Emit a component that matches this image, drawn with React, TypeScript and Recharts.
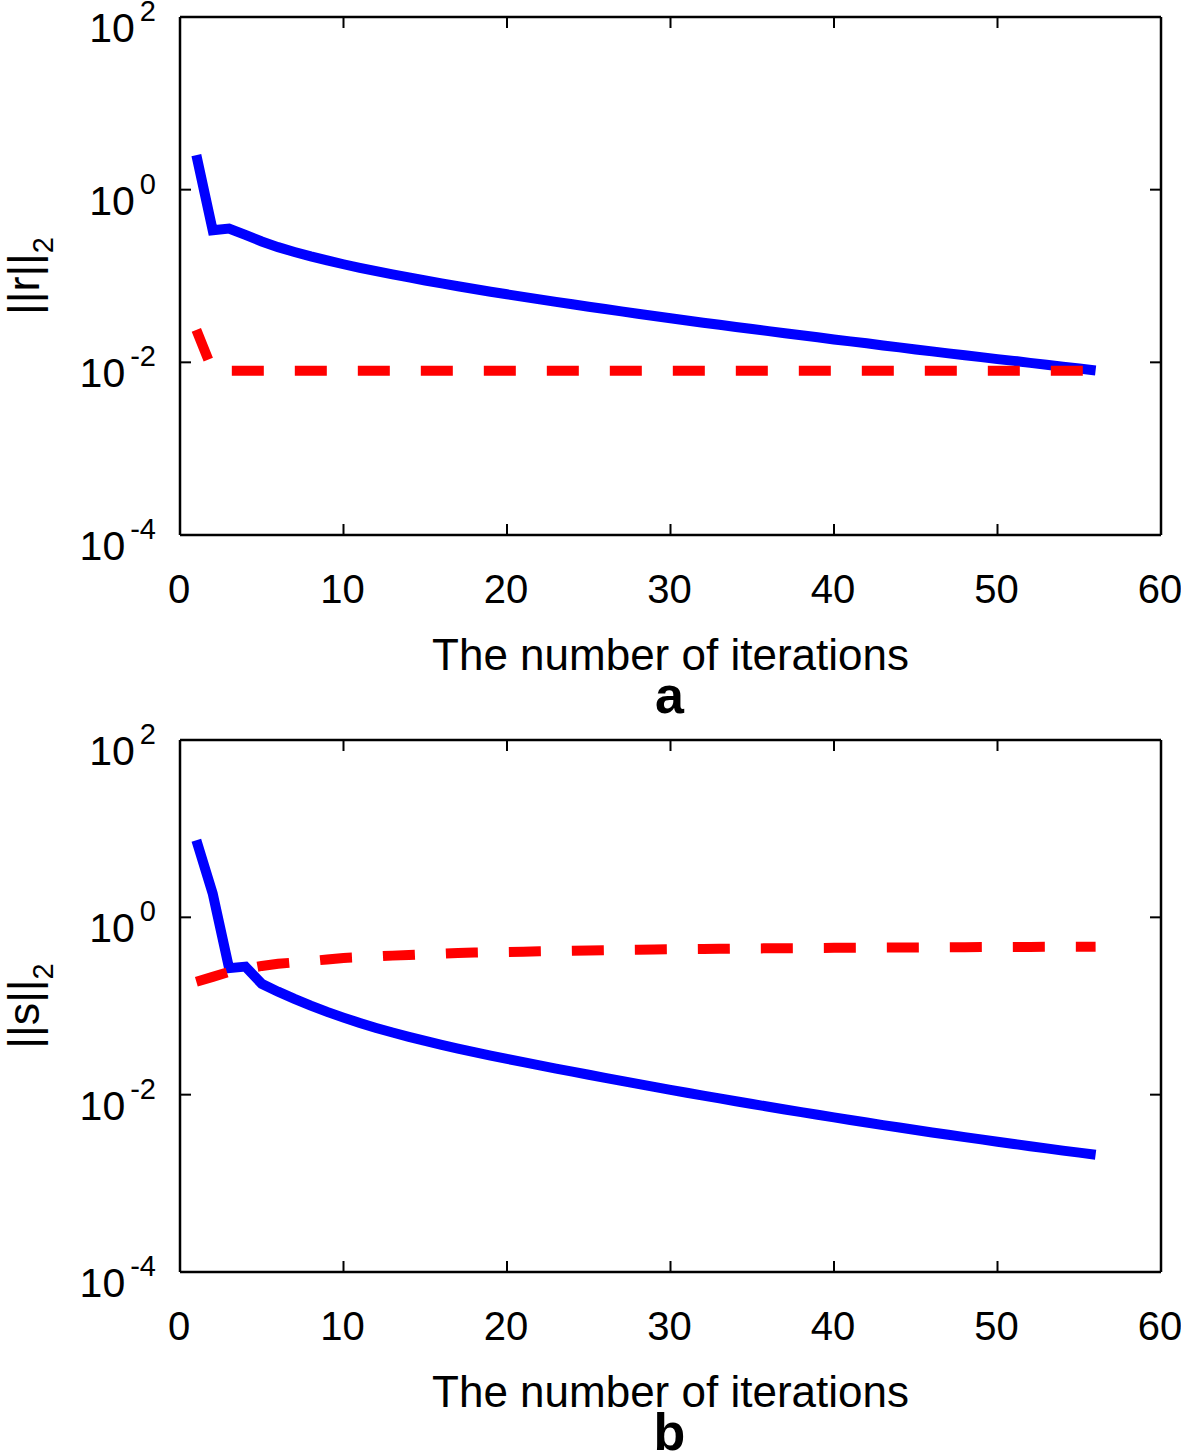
import { LineChart, Line, XAxis, YAxis, Label } from 'recharts';

const FONT = '"Liberation Sans", Arial, Helvetica, sans-serif';

const iterations = [
  1, 2, 3, 4, 5, 6, 7, 8, 9, 10, 11, 12, 13, 14, 15, 16, 17, 18, 19, 20,
  21, 22, 23, 24, 25, 26, 27, 28, 29, 30, 31, 32, 33, 34, 35, 36, 37, 38, 39, 40,
  41, 42, 43, 44, 45, 46, 47, 48, 49, 50, 51, 52, 53, 54, 55, 56,
];

// panel a: ||r||_2
const rNormSolid = [
  2.51, 0.339, 0.355, 0.299, 0.251, 0.216, 0.19, 0.1687, 0.1514, 0.1368,
  0.1245, 0.1138, 0.1045, 0.0962, 0.0887, 0.082, 0.076, 0.0706, 0.0658, 0.0614,
  0.0573, 0.0536, 0.0501, 0.047, 0.0441, 0.0414, 0.0389, 0.0366, 0.0344, 0.0324,
  0.0305, 0.0288, 0.0272, 0.0257, 0.0243, 0.023, 0.0217, 0.0206, 0.0195, 0.0184,
  0.0175, 0.0166, 0.0157, 0.0149, 0.0141, 0.0134, 0.0127, 0.0121, 0.0115, 0.0109,
  0.0104, 0.00986, 0.00938, 0.00891, 0.00847, 0.00805,
];
const rNormDashed = [
  0.0237, 0.008, 0.008, 0.008, 0.008, 0.008, 0.008, 0.008, 0.008, 0.008,
  0.008, 0.008, 0.008, 0.008, 0.008, 0.008, 0.008, 0.008, 0.008, 0.008,
  0.008, 0.008, 0.008, 0.008, 0.008, 0.008, 0.008, 0.008, 0.008, 0.008,
  0.008, 0.008, 0.008, 0.008, 0.008, 0.008, 0.008, 0.008, 0.008, 0.008,
  0.008, 0.008, 0.008, 0.008, 0.008, 0.008, 0.008, 0.008, 0.008, 0.008,
  0.008, 0.008, 0.008, 0.008, 0.008, 0.008,
];

// panel b: ||s||_2
const sNormSolid = [
  7.41, 1.86, 0.267, 0.278, 0.178, 0.1452, 0.1202, 0.1009, 0.0859, 0.074,
  0.0644, 0.0566, 0.0502, 0.0449, 0.0404, 0.0365, 0.0331, 0.0302, 0.0276, 0.0253,
  0.02325, 0.0214, 0.01971, 0.01816, 0.01676, 0.01547, 0.0143, 0.01322, 0.01224, 0.01134,
  0.01052, 0.00976, 0.00907, 0.00843, 0.00784, 0.0073, 0.00681, 0.00635, 0.00593, 0.00554,
  0.00518, 0.00485, 0.00454, 0.00426, 0.004, 0.00375, 0.00353, 0.00332, 0.00313, 0.00295,
  0.00278, 0.00262, 0.00248, 0.00234, 0.00222, 0.0021,
];
const sNormDashed = [
  0.188, 0.213, 0.242, 0.262, 0.283, 0.299, 0.31, 0.322, 0.335, 0.348,
  0.355, 0.362, 0.37, 0.377, 0.384, 0.389, 0.396, 0.4, 0.404, 0.407,
  0.41, 0.414, 0.417, 0.42, 0.423, 0.426, 0.429, 0.431, 0.434, 0.436,
  0.438, 0.44, 0.442, 0.444, 0.446, 0.447, 0.449, 0.45, 0.452, 0.453,
  0.454, 0.455, 0.456, 0.457, 0.458, 0.459, 0.46, 0.461, 0.462, 0.463,
  0.464, 0.464, 0.465, 0.466, 0.466, 0.467,
];

const xTicks = [0, 10, 20, 30, 40, 50, 60];
const yTicks = [1e-4, 1e-2, 1, 100];

const toRows = (solid: number[], dashed: number[]) =>
  iterations.map((iter, i) => ({ iter, solid: solid[i], dashed: dashed[i] }));

const BottomTick = ({ x, y, payload }: any) => (
  <g>
    <line x1={x} y1={y} x2={x} y2={y - 11} stroke="#000" strokeWidth={2} />
    <text x={x - 1} y={y + 68} textAnchor="middle" fontFamily={FONT} fontSize={40} fill="#000">
      {payload.value}
    </text>
  </g>
);

const TopTick = ({ x, y }: any) => (
  <line x1={x} y1={y} x2={x} y2={y + 11} stroke="#000" strokeWidth={2} />
);

const LeftTick = ({ x, y, payload }: any) => {
  const exp = Math.round(Math.log10(payload.value));
  return (
    <g>
      <line x1={x} y1={y} x2={x + 11} y2={y} stroke="#000" strokeWidth={2} />
      <text x={x - 24} y={y + 25} textAnchor="end" fontFamily={FONT} fontSize={41} fill="#000">
        10
        <tspan fontSize={29} dx={5} dy={-21}>
          {exp}
        </tspan>
      </text>
    </g>
  );
};

const RightTick = ({ x, y }: any) => (
  <line x1={x} y1={y} x2={x - 11} y2={y} stroke="#000" strokeWidth={2} />
);

interface PanelProps {
  rows: { iter: number; solid: number; dashed: number }[];
  height: number;
  plotTop: number;
  xAxisHeight: number;
  symbol: string;
  letter: string;
}

function Panel({ rows, height, plotTop, xAxisHeight, symbol, letter }: PanelProps) {
  const xLabel = (props: any) => {
    const vb = props.viewBox || { x: 180, y: height - xAxisHeight, width: 981 };
    const cx = vb.x + vb.width / 2;
    return (
      <g fontFamily={FONT} fill="#000">
        <text x={cx} y={vb.y + 135} textAnchor="middle" fontSize={44}>
          The number of iterations
        </text>
        <text x={cx - 1} y={vb.y + 178} textAnchor="middle" fontSize={52} fontWeight="bold">
          {letter}
        </text>
      </g>
    );
  };

  const yLabel = (props: any) => {
    const vb = props.viewBox || { x: 0, y: plotTop, height: height - plotTop - xAxisHeight };
    const cy = vb.y + vb.height / 2;
    const bx = 39;
    return (
      <text
        x={bx}
        y={cy}
        transform={`rotate(-90, ${bx}, ${cy})`}
        textAnchor="middle"
        fontFamily={FONT}
        fontSize={45}
        fill="#000"
      >
        {`||${symbol}||`}
        <tspan fontSize={29} dy={14}>
          2
        </tspan>
      </text>
    );
  };

  const frame = { stroke: '#000', strokeWidth: 2.5 };

  return (
    <LineChart width={1181} height={height} data={rows} margin={{ top: 0, right: 0, bottom: 0, left: 0 }}>
      <XAxis
        xAxisId="top"
        orientation="top"
        type="number"
        dataKey="iter"
        domain={[0, 60]}
        ticks={xTicks}
        allowDataOverflow
        height={plotTop}
        interval={0}
        tickSize={0}
        tickMargin={0}
        tickLine={false}
        axisLine={frame}
        tick={<TopTick />}
      />
      <XAxis
        type="number"
        dataKey="iter"
        domain={[0, 60]}
        ticks={xTicks}
        allowDataOverflow
        height={xAxisHeight}
        interval={0}
        tickSize={0}
        tickMargin={0}
        tickLine={false}
        axisLine={frame}
        tick={<BottomTick />}
      >
        <Label content={xLabel} />
      </XAxis>
      <YAxis
        type="number"
        scale="log"
        domain={[1e-4, 100]}
        ticks={yTicks}
        allowDataOverflow
        width={180}
        interval={0}
        tickSize={0}
        tickMargin={0}
        tickLine={false}
        axisLine={frame}
        tick={<LeftTick />}
      >
        <Label content={yLabel} />
      </YAxis>
      <YAxis
        yAxisId="right"
        orientation="right"
        type="number"
        scale="log"
        domain={[1e-4, 100]}
        ticks={yTicks}
        allowDataOverflow
        width={20}
        interval={0}
        tickSize={0}
        tickMargin={0}
        tickLine={false}
        axisLine={frame}
        tick={<RightTick />}
      />
      <Line
        type="linear"
        dataKey="solid"
        stroke="#0000ff"
        strokeWidth={10}
        dot={false}
        activeDot={false}
        isAnimationActive={false}
      />
      <Line
        type="linear"
        dataKey="dashed"
        stroke="#ff0000"
        strokeWidth={10}
        strokeDasharray="32 31"
        dot={false}
        activeDot={false}
        isAnimationActive={false}
      />
    </LineChart>
  );
}

export default function App() {
  return (
    <div style={{ position: 'relative', width: 1181, height: 1455, background: '#fff', overflow: 'hidden' }}>
      <style>{'body{margin:0;}'}</style>
      <div style={{ position: 'absolute', left: 0, top: 0 }}>
        <Panel rows={toRows(rNormSolid, rNormDashed)} height={720} plotTop={17} xAxisHeight={185} symbol="r" letter="a" />
      </div>
      <div style={{ position: 'absolute', left: 0, top: 720 }}>
        <Panel rows={toRows(sNormSolid, sNormDashed)} height={735} plotTop={20} xAxisHeight={183} symbol="s" letter="b" />
      </div>
    </div>
  );
}
